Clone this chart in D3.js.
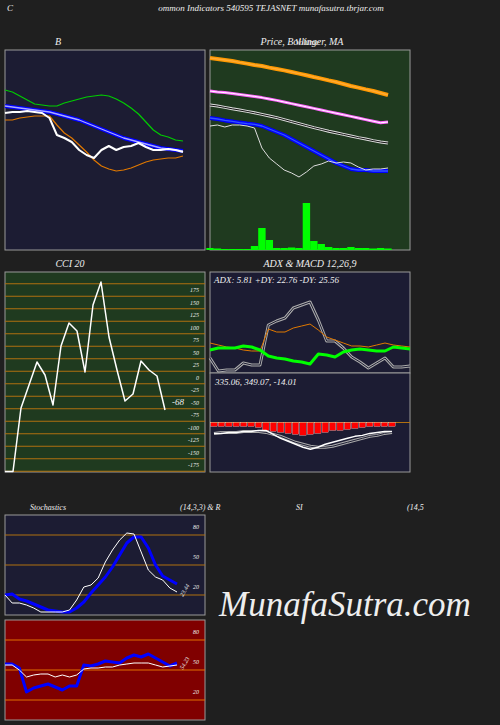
<!DOCTYPE html>
<html><head><meta charset="utf-8">
<script src="https://cdn.jsdelivr.net/npm/d3@7"></script>
<style>body{margin:0;background:#1f1f1f}text{font-family:"Liberation Serif",serif;font-style:italic;fill:#eee}</style>
</head><body><div id="chart"></div>
<script>
// bollinger panel (values 0..100)
var bbUpper = [80,79,77,75,73,72.5,72,72,73.5,74.5,75.5,76.5,77,77.5,77,75.5,73.5,71,68,64,60,57.5,56.5,55,54.5];
var bbMid = [72,71.5,71,70.5,70,69.5,69,68,67,66,65,63.5,62,60.5,59,57.5,56,55,54,53,52,51,50.5,50,49.5];
var bbLower = [65,65,66,66.5,67,67,67,62.5,58.5,56,52.5,49,45,42,40.5,39.5,40,41,42.5,44,45,45.5,46,46,47];
var bbPrice = [68.5,69,69,69.5,69,68.5,66,57.5,56,54,50,47.5,46,50,52,50,51.5,52,53.5,51.5,50,50,50.5,50,49];
// price / MA panel (values 0..100)
var ma200 = [96,95.5,95,94.5,93.8,93.2,92.5,92,91.2,90.5,89.8,89,88.2,87.4,86.5,85.7,84.8,84,83,82,81.2,80.3,79.5,78.5,77.5];
var ma100 = [79.5,79,78.7,78.3,77.8,77.3,76.8,76.2,75.5,74.8,74,73.2,72.4,71.6,70.8,70,69.2,68.4,67.6,66.8,66,65.2,64.4,63.6,64];
var ma50 = [72.5,72,71.3,70.6,70,69.3,68.6,67.8,67,66.2,65.2,64.2,63.2,62.2,61.2,60.3,59.4,58.6,57.8,57,56.2,55.5,54.7,54,53.5];
var ma20 = [66,65.5,64.8,64.3,63.7,63.2,62.8,62,60.5,59,57.5,55.5,53.5,51.5,49.5,47.5,45.5,43.5,42,40.5,40,40,39.5,39.5,39.5];
var price = [62,62.5,61.5,62.5,62.5,62,61,51,46,43,40,38.5,36.5,39,42,43,44.5,43.5,44,43.5,41.5,40,40.5,40.5,41];
var volume = [2,1.5,1,1,1,1,4,22,10,2,2,2.5,2,47,9,6,3,2,2,3,2,2,1.5,2,1.5];
// CCI
var cci = [-189,-189,-61,-15,31,5,-55,63,109,93,11,145,191,81,15,-47,-33,33,15,3,-65];
var cciTicks = [175,150,125,100,75,50,25,0,-25,-50,-75,-100,-125,-150,-175];
// ADX
var adx = [15,2,3,3,10,8,8,48,52,55,65,68,71,53,32,32,25,16,11,5,10,15,6,6,7];
var plusDI = [30,28,26,25,23,22,22,44,41,41,45,47,49,43,36,33,30,27,27,26,28,30,28,27,26];
var minusDI = [23,25,25,25,27,26,23,17,15,14,12,11,9,19,18,16,21,23,24,23,22,22,26,25,24];
// MACD
var macd = [-11,-11,-10,-10,-9,-9,-8,-8,-12,-16,-19,-22,-25,-27,-25,-22,-20,-18,-16,-14,-13,-11,-10,-9,-9];
var signal = [-11,-10,-10,-10,-9,-9,-9,-10,-12,-14,-17,-20,-22,-24,-25,-25,-24,-22,-20,-18,-16,-14,-13,-11,-10];
var hist = [-4,-4,-4,-4,-4,-4,-5,-8,-9,-10,-11,-12,-13,-12,-11,-10,-8,-8,-7,-6,-5,-4,-4,-4,-4];
// stochastics / RSI
var stochD = [20,21,16,14,11,8,5,4,3,3,7,13,22,30,38,48,60,72,78,78,67,50,39,35,31];
var stochK = [20,12,12,10,7,3,3,3,3,5,15,28,30,37,53,65,75,82,81,63,45,38,35,27,23];
var rsi = [56,56,52,28,32,34,36,33,30,34,34,55,54,56,59,58,57,62,65,63,66,62,58,54,57];
var mfi = [55,55,50,43,45,46,46,43,45,43,45,51,52,52,53,53,55,56,57,57,57,55,53,54,55];
var levels = [80,50,20];

var svg = d3.select("#chart").append("svg").attr("width",500).attr("height",725);
svg.append("rect").attr("width",500).attr("height",725).attr("fill","#1f1f1f");

function txt(x,y,s,size,anchor){
	return svg.append("text").attr("x",x).attr("y",y).attr("font-size",size||9)
		.attr("text-anchor",anchor||"start").text(s);
}
function panel(x,y,w,h,fill){
	svg.append("rect").attr("x",x).attr("y",y).attr("width",w).attr("height",h)
		.attr("fill",fill).attr("stroke","#999").attr("stroke-width",1);
}
function line(data,xs,ys,color,width){
	return svg.append("path").datum(data).attr("fill","none").attr("stroke",color)
		.attr("stroke-width",width).attr("stroke-linejoin","round")
		.attr("d",d3.line().x(function(d,i){return xs(i);}).y(function(d){return ys(d);}));
}
function dbl(data,xs,ys,outer,inner,w){
	line(data,xs,ys,outer,w);
	line(data,xs,ys,inner,w/3);
}

txt(7,11,"C",9);
txt(271,11,"ommon  Indicators 540595 TEJASNET munafasutra.tbrjar.com",9,"middle");
txt(58,45,"B",10,"middle");
txt(302,45,"Price,  Bollinger,  MA",10,"middle");
txt(307,45,"Volume",8,"middle");

// panel 1 bollinger
panel(5,50,200,200,"#1c1c33");
var x1 = d3.scaleLinear().domain([0,24]).range([5,183]);
var y1 = d3.scaleLinear().domain([0,100]).range([250,50]);
line(bbUpper,x1,y1,"#00cc00",1.2);
line(bbLower,x1,y1,"#e07800",1.2);
dbl(bbMid,x1,y1,"#0000ff","#aaaaff",4);
line(bbPrice,x1,y1,"#ffffff",2);

// panel 2 price
panel(210,50,200,200,"#1f3a1f");
var x2 = d3.scaleLinear().domain([0,24]).range([210,388]);
var yv = d3.scaleLinear().domain([0,50]).range([250,200]);
svg.selectAll(".vol").data(volume).enter().append("rect")
	.attr("x",function(d,i){return x2(i)-3.7;}).attr("width",7.4)
	.attr("y",function(d){return yv(d);}).attr("height",function(d){return 250-yv(d);})
	.attr("fill","#00ff00");
dbl(ma200,x2,y1,"#ff9900","#ffaa33",4);
dbl(ma100,x2,y1,"#ff66ff","#ffffff",3);
dbl(ma50,x2,y1,"#dddddd","#111111",3);
dbl(ma20,x2,y1,"#0000ff","#3355ff",4);
line(price,x2,y1,"#dddddd",1);

// CCI
txt(70,267,"CCI 20",10,"middle");
panel(5,272,200,200,"#1f3a1f");
var yc = d3.scaleLinear().domain([-175,175]).range([465,290]);
var cgrid = d3.range(-187.5,200,25);
svg.selectAll(".cg").data(cgrid).enter().append("line")
	.attr("x1",5).attr("x2",205).attr("y1",function(d){return yc(d);}).attr("y2",function(d){return yc(d);})
	.attr("stroke","#b07010").attr("stroke-width",1);
cciTicks.forEach(function(t){ txt(199,yc(t)+2,t,6,"end"); });
var xc = d3.scaleLinear().domain([0,20]).range([5,165]);
line(cci.map(function(d){return Math.max(d,-188);}),xc,yc,"#ffffff",1.5);
txt(172,405,"-68",9);

// ADX & MACD
txt(310,267,"ADX   & MACD 12,26,9",10,"middle");
panel(210,272,200,101,"#1c1c33");
panel(210,373,200,99,"#1c1c33");
txt(214,283,"ADX: 5.81 +DY: 22.76   -DY: 25.56",9);
var x3 = d3.scaleLinear().domain([0,24]).range([210,410]);
var ya = d3.scaleLinear().domain([0,101]).range([373,272]);
dbl(adx,x3,ya,"#aaaaaa","#1c1c33",3);
line(plusDI,x3,ya,"#e07800",1);
line(minusDI,x3,ya,"#00ff00",3);
txt(215,385,"335.06,  349.07,  -14.01",9);
var ym = d3.scaleLinear().domain([-50,50]).range([472,373]);
var x4 = d3.scaleLinear().domain([0,24]).range([214,392]);
svg.append("line").attr("x1",210).attr("x2",410).attr("y1",ym(0)).attr("y2",ym(0)).attr("stroke","#b07010");
svg.selectAll(".hb").data(hist).enter().append("rect")
	.attr("x",function(d,i){return x4(i)-3.2;}).attr("width",6.4)
	.attr("y",ym(0)).attr("height",function(d){return ym(d)-ym(0);})
	.attr("fill","#ff0000").attr("stroke","#ffffff").attr("stroke-width",0.3);
dbl(signal,x4,ym,"#aaaaaa","#1c1c33",3);
line(macd,x4,ym,"#ffffff",1.5);

// stochastics / RSI titles
txt(30,510,"Stochastics",8);
txt(180,510,"(14,3,3) & R",8);
txt(296,510,"SI",8);
txt(407,510,"(14,5",8);

function osc(y0,fill,a,b,lbl){
	panel(5,y0,200,100,fill);
	var ys = d3.scaleLinear().domain([0,100]).range([y0+100,y0]);
	levels.forEach(function(l){
		svg.append("line").attr("x1",5).attr("x2",205).attr("y1",ys(l)).attr("y2",ys(l))
			.attr("stroke",fill=="#800000"?"#e07000":"#b07010");
		txt(199,ys(l)-6,l,6,"end");
	});
	var xs = d3.scaleLinear().domain([0,24]).range([5,177]);
	line(a,xs,ys,"#0000ff",3);
	line(b,xs,ys,"#ffffff",1);
	txt(0,0,lbl,6).attr("transform","translate(183,"+(ys(b[24])+5)+") rotate(-60)");
}
osc(515,"#1c1c33",stochD,stochK,"23.44");
osc(620,"#800000",rsi,mfi,"54.23");

txt(345,616,"MunafaSutra.com",35,"middle");
</script></body></html>
